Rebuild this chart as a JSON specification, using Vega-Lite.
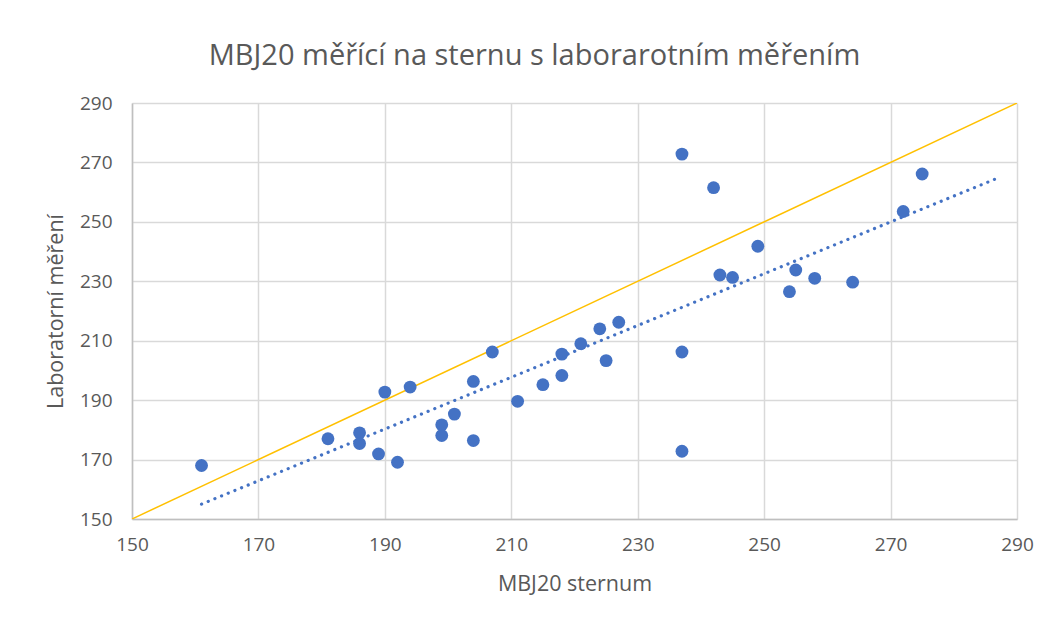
{
  "$schema": "https://vega.github.io/schema/vega-lite/v6.json",
  "width": 885,
  "height": 416,
  "autosize": {"type": "none"},
  "padding": {"left": 132, "top": 103, "right": 36, "bottom": 102},
  "background": "white",
  "title": {
    "text": "MBJ20 měřící na sternu s laborarotním měřením",
    "anchor": "middle",
    "frame": "group",
    "dx": -40,
    "offset": 0,
    "baseline": "alphabetic",
    "font": "Open Sans",
    "fontSize": 29,
    "fontWeight": "normal",
    "color": "#595959"
  },
  "config": {
    "view": {"stroke": null},
    "font": "Open Sans",
    "axis": {
      "gridColor": "#d9d9d9",
      "gridWidth": 1.5,
      "domainColor": "#bfbfbf",
      "domainWidth": 1.5,
      "ticks": false,
      "labelFlush": false,
      "labelFont": "Open Sans",
      "labelFontSize": 19,
      "labelColor": "#595959",
      "titleFont": "Open Sans",
      "titleFontSize": 21.5,
      "titleFontWeight": "normal",
      "titleColor": "#595959"
    }
  },
  "datasets": {
    "pts": [
      {"sternum": 161, "lab": 168},
      {"sternum": 181, "lab": 177},
      {"sternum": 186, "lab": 179},
      {"sternum": 186, "lab": 175.4},
      {"sternum": 190, "lab": 192.7},
      {"sternum": 194, "lab": 194.4},
      {"sternum": 189, "lab": 171.9},
      {"sternum": 192, "lab": 169.1},
      {"sternum": 199, "lab": 181.7},
      {"sternum": 199, "lab": 178.1},
      {"sternum": 201, "lab": 185.3},
      {"sternum": 204, "lab": 196.3},
      {"sternum": 204, "lab": 176.4},
      {"sternum": 207, "lab": 206.2},
      {"sternum": 211, "lab": 189.6},
      {"sternum": 215, "lab": 195.2},
      {"sternum": 218, "lab": 205.5},
      {"sternum": 218, "lab": 198.3},
      {"sternum": 221, "lab": 209},
      {"sternum": 224, "lab": 214},
      {"sternum": 225, "lab": 203.3},
      {"sternum": 227, "lab": 216.2},
      {"sternum": 237, "lab": 206.2},
      {"sternum": 237, "lab": 172.8},
      {"sternum": 237, "lab": 272.8},
      {"sternum": 242, "lab": 261.5},
      {"sternum": 249, "lab": 241.8},
      {"sternum": 243, "lab": 232.1},
      {"sternum": 245, "lab": 231.3},
      {"sternum": 255, "lab": 233.8},
      {"sternum": 254, "lab": 226.5},
      {"sternum": 258, "lab": 231},
      {"sternum": 264, "lab": 229.7},
      {"sternum": 272, "lab": 253.5},
      {"sternum": 275, "lab": 266.1}
    ],
    "identity": [
      {"sternum": 150, "lab": 150},
      {"sternum": 290, "lab": 290}
    ]
  },
  "layer": [
    {
      "data": {"name": "identity"},
      "mark": {"type": "line", "color": "#FFC000", "strokeWidth": 1.5, "clip": true},
      "encoding": {
        "x": {
          "field": "sternum",
          "type": "quantitative",
          "scale": {"domain": [150, 290], "nice": false, "zero": false},
          "axis": {"values": [150, 170, 190, 210, 230, 250, 270, 290], "title": "MBJ20 sternum", "labelPadding": 16, "titlePadding": 19}
        },
        "y": {
          "field": "lab",
          "type": "quantitative",
          "scale": {"domain": [150, 290], "nice": false, "zero": false},
          "axis": {"values": [150, 170, 190, 210, 230, 250, 270, 290], "title": "Laboratorní měření", "labelPadding": 20, "titlePadding": 12}
        }
      }
    },
    {
      "data": {"name": "pts"},
      "mark": {"type": "point", "filled": true, "color": "#4472C4", "opacity": 1, "size": 165},
      "encoding": {
        "x": {"field": "sternum", "type": "quantitative"},
        "y": {"field": "lab", "type": "quantitative"}
      }
    },
    {
      "data": {"name": "pts"},
      "transform": [
        {"regression": "lab", "on": "sternum", "extent": [161, 287]}
      ],
      "mark": {"type": "line", "color": "#4472C4", "strokeWidth": 3.2, "strokeCap": "round", "strokeDash": [0.1, 7.1]},
      "encoding": {
        "x": {"field": "sternum", "type": "quantitative"},
        "y": {"field": "lab", "type": "quantitative"}
      }
    }
  ]
}
